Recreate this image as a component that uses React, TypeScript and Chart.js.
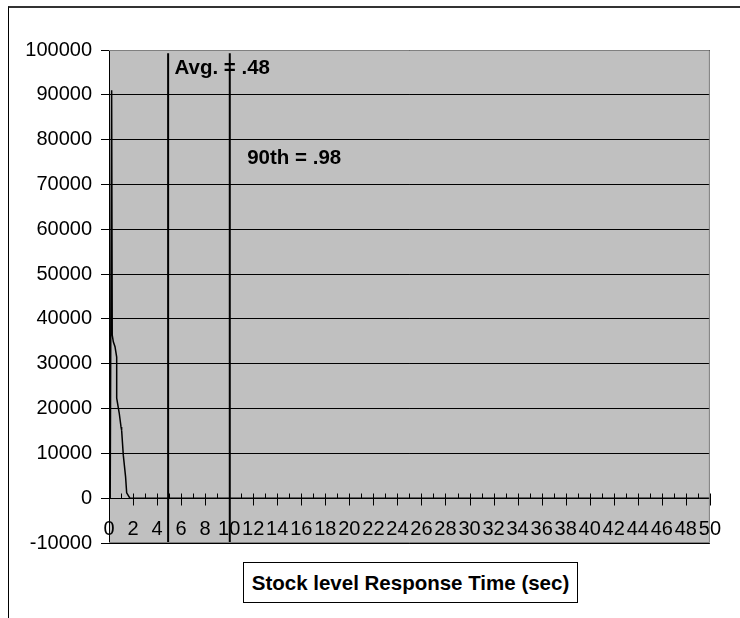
import React, { useEffect, useRef } from 'react';
import { Chart, registerables } from 'chart.js';

Chart.register(...registerables);

// x in axis units (axis labels 0..50), y = count
const curveX = [0.1, 0.22, 0.27, 0.36, 0.5, 0.64, 0.64, 0.85, 1.0, 1.05, 1.19, 1.38, 1.47, 1.74, 50];
const curveY = [0, 91000, 36400, 34900, 33800, 31500, 22300, 19000, 15900, 15200, 9600, 4750, 1200, 0, 0];

const avgX = 4.92;
const p90X = 10.05;
const markerTop = 99300;
const markerBottom = -10000;

const yMin = -10000;
const yMax = 100000;
const yStep = 10000;
const xMin = 0;
const xMax = 50;
const xStep = 2;

const avgLabel = 'Avg. = .48';
const p90Label = '90th = .98';
const avgLabelPos = { x: 5.45, y: 95900 };
const p90LabelPos = { x: 11.5, y: 75900 };
const axisTitle = 'Stock level Response Time (sec)';

const FONT = '"Liberation Sans", Arial, sans-serif';

const plotPlugin = {
  id: 'plotDecor',
  beforeDraw(chart: any) {
    const { ctx, chartArea } = chart;
    ctx.save();
    ctx.fillStyle = '#c0c0c0';
    ctx.fillRect(chartArea.left, chartArea.top, chartArea.right - chartArea.left, chartArea.bottom - chartArea.top);
    ctx.restore();
  },
  afterDraw(chart: any) {
    const { ctx, chartArea, scales } = chart;
    const xs = scales.x;
    const ys = scales.y;
    ctx.save();
    // plot border (top/right/bottom) in gray
    ctx.strokeStyle = '#808080';
    ctx.lineWidth = 1;
    ctx.beginPath();
    ctx.moveTo(chartArea.left, chartArea.top + 0.5);
    ctx.lineTo(chartArea.right - 0.5, chartArea.top + 0.5);
    ctx.lineTo(chartArea.right - 0.5, chartArea.bottom - 0.5);
    ctx.lineTo(chartArea.left, chartArea.bottom - 0.5);
    ctx.stroke();
    // x-axis tick marks: major cross the axis, minor point up
    const y0 = Math.round(ys.getPixelForValue(0)) + 0.5;
    ctx.strokeStyle = '#000';
    ctx.beginPath();
    for (let v = xMin; v <= xMax; v += 1) {
      const px = Math.round(xs.getPixelForValue(v)) + 0.5;
      if (v % xStep === 0) {
        ctx.moveTo(px, y0 - 5);
        ctx.lineTo(px, y0 + 7);
      } else {
        ctx.moveTo(px, y0 - 5);
        ctx.lineTo(px, y0);
      }
    }
    ctx.stroke();
    // annotations
    ctx.fillStyle = '#000';
    ctx.font = 'bold 20.5px ' + FONT;
    ctx.textBaseline = 'middle';
    ctx.textAlign = 'left';
    ctx.fillText(avgLabel, xs.getPixelForValue(avgLabelPos.x), ys.getPixelForValue(avgLabelPos.y));
    ctx.fillText(p90Label, xs.getPixelForValue(p90LabelPos.x), ys.getPixelForValue(p90LabelPos.y));
    ctx.restore();
  },
};

export default function App() {
  const canvasRef = useRef<HTMLCanvasElement | null>(null);

  useEffect(() => {
    document.body.style.overflow = 'hidden';
    const canvas = canvasRef.current;
    if (!canvas) return;
    const chart = new Chart(canvas, {
      type: 'scatter',
      data: {
        datasets: [
          {
            data: curveX.map((x, i) => ({ x, y: curveY[i] })),
            showLine: true,
            borderColor: '#000',
            borderWidth: 1.5,
            pointRadius: 0,
            tension: 0,
          },
          {
            data: [{ x: avgX, y: markerTop }, { x: avgX, y: markerBottom }],
            showLine: true,
            borderColor: '#000',
            borderWidth: 2,
            pointRadius: 0,
          },
          {
            data: [{ x: p90X, y: markerTop }, { x: p90X, y: markerBottom }],
            showLine: true,
            borderColor: '#000',
            borderWidth: 2,
            pointRadius: 0,
          },
        ],
      },
      options: {
        animation: false,
        responsive: false,
        maintainAspectRatio: false,
        layout: { padding: { left: 0, top: 50, right: 28, bottom: 75 } },
        plugins: { legend: { display: false }, tooltip: { enabled: false } },
        scales: {
          x: {
            type: 'linear',
            position: { y: 0 } as any,
            min: xMin,
            max: xMax,
            grid: { display: true, drawOnChartArea: false, drawTicks: false },
            border: { display: true, color: '#000', width: 1 },
            ticks: {
              stepSize: xStep,
              autoSkip: false,
              maxRotation: 0,
              padding: 19,
              color: '#000',
              font: { family: FONT, size: 20 },
              callback: (v: any) => String(v),
            },
          },
          y: {
            type: 'linear',
            min: yMin,
            max: yMax,
            afterFit: (scale: any) => {
              scale.width = 109;
            },
            grid: { color: '#000', lineWidth: 1, tickLength: 8, drawTicks: true },
            border: { display: true, color: '#000', width: 1 },
            ticks: {
              stepSize: yStep,
              padding: 9,
              color: '#000',
              font: { family: FONT, size: 20 },
              callback: (v: any) => String(v),
            },
          },
        },
      },
      plugins: [plotPlugin],
    });
    return () => chart.destroy();
  }, []);

  return (
    <div style={{ position: 'absolute', left: 0, top: 0, width: 740, height: 618, overflow: 'hidden', background: '#fff' }}>
      <div
        style={{
          position: 'absolute',
          left: 8,
          top: 6,
          width: 732,
          height: 612,
          boxSizing: 'border-box',
          borderTop: '2px solid #333',
          borderLeft: '1px solid #000',
        }}
      />
      <canvas ref={canvasRef} width={740} height={618} style={{ position: 'absolute', left: 0, top: 0, width: 740, height: 618 }} />
      <div
        style={{
          position: 'absolute',
          left: 243,
          top: 562,
          width: 335,
          height: 41,
          boxSizing: 'border-box',
          border: '1px solid #000',
          background: '#fff',
          display: 'flex',
          alignItems: 'center',
          justifyContent: 'center',
          fontFamily: FONT,
          fontWeight: 'bold',
          fontSize: 20.5,
          color: '#000',
          whiteSpace: 'nowrap',
        }}
      >
        {axisTitle}
      </div>
    </div>
  );
}
